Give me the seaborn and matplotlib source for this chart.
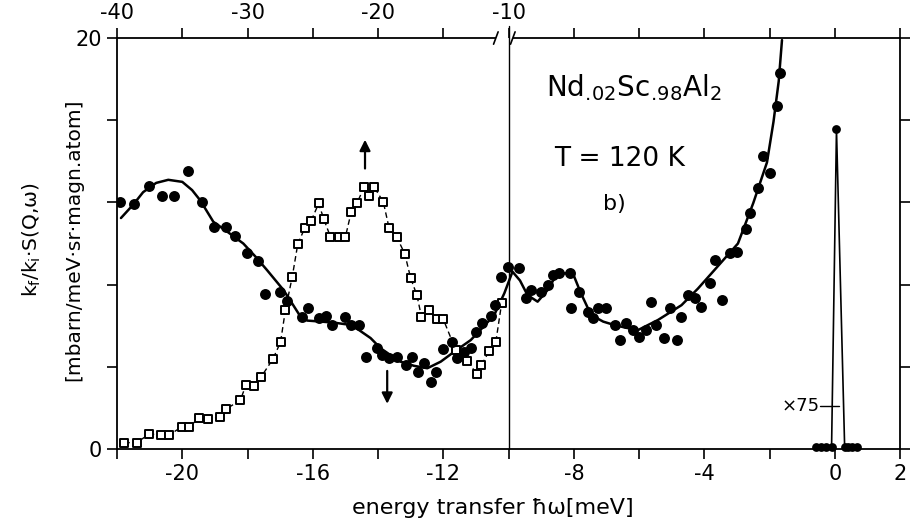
import numpy as np
import pandas as pd
import matplotlib
matplotlib.use("Agg")
import matplotlib.pyplot as plt
import seaborn as sns

# filled circles: measured points
dot_x = [-21.91, -21.48, -21.02, -20.63, -20.25, -19.84, -19.40, -19.02, -18.66, -18.37,
         -18.02, -17.68, -17.47, -17.01, -16.79, -16.33, -16.15, -15.82, -15.61, -15.40,
         -15.00, -14.84, -14.59, -14.38, -14.02, -13.87, -13.67, -13.41, -13.15, -12.95,
         -12.79, -12.59, -12.38, -12.23, -12.00, -11.72, -11.57, -11.36, -11.16, -11.00,
         -10.80, -10.54, -10.42, -10.23, -10.03, -9.67, -9.47, -9.31, -9.00, -8.80,
         -8.65, -8.44, -8.13, -8.08, -7.83, -7.57, -7.42, -7.27, -7.01, -6.75,
         -6.60, -6.39, -6.19, -5.99, -5.78, -5.63, -5.47, -5.24, -5.06, -4.83,
         -4.70, -4.50, -4.30, -4.09, -3.84, -3.68, -3.47, -3.22, -2.99, -2.73,
         -2.60, -2.34, -2.19, -1.98, -1.77, -1.67]
dot_y = [12.0, 11.92, 12.8, 12.3, 12.3, 13.55, 12.0, 10.8, 10.8, 10.37,
         9.54, 9.16, 7.56, 7.65, 7.22, 6.44, 6.88, 6.36, 6.47, 6.03,
         6.44, 6.03, 6.03, 4.49, 4.90, 4.57, 4.41, 4.49, 4.09, 4.49,
         3.76, 4.17, 3.28, 3.76, 4.85, 5.22, 4.41, 4.73, 4.90, 5.71,
         6.11, 6.48, 7.0, 8.38, 8.87, 8.79, 7.33, 7.74, 7.65, 7.98,
         8.47, 8.55, 8.55, 6.85, 7.65, 6.68, 6.36, 6.85, 6.85, 6.03,
         5.30, 6.11, 5.79, 5.46, 5.79, 7.17, 6.03, 5.39, 6.85, 5.30,
         6.44, 7.49, 7.33, 6.92, 8.06, 9.20, 7.25, 9.55, 9.58, 10.73,
         11.47, 12.71, 14.28, 13.45, 16.67, 18.32]

# open squares with dashed guide
sq_x = [-21.78, -21.40, -21.01, -20.65, -20.40, -20.01, -19.78, -19.50, -19.21, -18.84,
        -18.65, -18.22, -18.05, -17.81, -17.58, -17.23, -16.99, -16.84, -16.63, -16.46,
        -16.25, -16.05, -15.82, -15.66, -15.46, -15.20, -15.00, -14.82, -14.64, -14.43,
        -14.28, -14.13, -13.84, -13.66, -13.43, -13.18, -13.00, -12.81, -12.67, -12.44,
        -12.20, -12.00, -11.62, -11.26, -10.97, -10.83, -10.59, -10.39, -10.21]
sq_y = [0.31, 0.31, 0.73, 0.68, 0.68, 1.09, 1.09, 1.49, 1.44, 1.54,
        1.95, 2.38, 3.11, 3.07, 3.52, 4.36, 5.19, 6.76, 8.38, 9.98,
        10.74, 11.11, 11.95, 11.17, 10.33, 10.33, 10.33, 11.55, 11.99, 12.73,
        12.31, 12.77, 12.03, 10.74, 10.33, 9.49, 8.31, 7.49, 6.44, 6.76,
        6.31, 6.31, 4.82, 4.30, 3.63, 4.09, 4.78, 5.22, 7.12]

# solid fitted curve
fit_x = [-21.88, -21.5, -21.2, -20.8, -20.43, -20.0, -19.7, -19.45, -19.05, -18.6,
         -18.13, -17.75, -17.4, -16.9, -16.68, -16.4, -16.17, -15.75, -15.35, -14.9,
         -14.64, -14.23, -13.92, -13.6, -13.31, -12.9, -12.49, -12.08, -11.67, -11.16,
         -10.8, -10.44, -10.13, -9.88, -9.65, -9.42, -9.11, -8.8, -8.6, -8.39,
         -8.03, -7.78, -7.47, -7.1, -6.75, -6.4, -6.03, -5.42, -4.70, -4.2,
         -3.69, -2.97, -2.50, -2.08, -1.88, -1.72, -1.62]
fit_y = [11.24, 11.9, 12.5, 12.95, 13.1, 13.0, 12.6, 12.1, 11.06, 10.55,
         10.0, 9.35, 8.7, 7.74, 7.2, 6.5, 6.25, 6.2, 6.15, 6.05,
         5.85, 5.4, 4.9, 4.55, 4.25, 4.05, 3.93, 4.25, 4.73, 5.3,
         5.9, 6.52, 7.58, 8.63, 8.2, 7.49, 7.17, 7.74, 8.3, 8.55,
         8.55, 7.57, 6.52, 6.2, 6.03, 5.9, 5.79, 6.28, 7.0, 7.8,
         8.71, 10.0, 11.97, 13.95, 15.93, 17.9, 19.9]

# elastic line (x75)
peak_x = [-0.57, -0.42, -0.27, -0.10, 0.05, 0.30, 0.40, 0.54, 0.67]
peak_y = [0.12, 0.12, 0.12, 0.12, 15.56, 0.12, 0.12, 0.12, 0.12]
mark_x = [-0.46, 0.12]
mark_y = [2.07, 2.07]

bottom_ticks = list(range(-22, 3, 2))
bottom_labels = ['', '-20', '', '-16', '', '-12', '', '-8', '', '-4', '', '0', '2']
top_labels = ['-40', '', '-30', '', '-20', '', '-10', '', '', '', '', '', '']
y_ticks = [0, 4, 8, 12, 16, 20]
y_labels = ['0', '', '', '', '', '20']

sns.set_style('ticks')
plt.rcParams['font.family'] = ['DejaVu Sans']
plt.rcParams['mathtext.default'] = 'regular'
plt.rcParams['axes.unicode_minus'] = False
plt.rcParams['text.color'] = 'black'
plt.rcParams['axes.labelcolor'] = 'black'
plt.rcParams['xtick.color'] = 'black'
plt.rcParams['ytick.color'] = 'black'
plt.rcParams['axes.edgecolor'] = 'black'

fig = plt.figure(figsize=(9.18, 5.31), dpi=100)
ax = fig.add_axes([0.1275, 0.1544, 0.853, 0.774])

sns.lineplot(x=fit_x, y=fit_y, ax=ax, color='black', linewidth=1.8,
             sort=False, estimator=None)
sns.lineplot(x=sq_x, y=sq_y, ax=ax, color='black', linewidth=1.0,
             linestyle=(0, (4, 2.5)), sort=False, estimator=None)
sns.scatterplot(x=sq_x, y=sq_y, ax=ax, marker='s', s=40, color='white',
                edgecolor='black', linewidth=1.4, zorder=3)
sns.scatterplot(x=dot_x, y=dot_y, ax=ax, color='black', s=62, linewidth=0, zorder=4)
sns.lineplot(x=peak_x, y=peak_y, ax=ax, color='black', linewidth=1.2,
             sort=False, estimator=None)
sns.scatterplot(x=peak_x, y=peak_y, ax=ax, color='black', s=40, linewidth=0,
                zorder=4, clip_on=False)
sns.lineplot(x=mark_x, y=mark_y, ax=ax, color='black', linewidth=1.0,
             sort=False, estimator=None)

ax.set_xlim(-22, 2)
ax.set_ylim(0, 20)
ax.set_xticks(bottom_ticks, labels=bottom_labels)
ax.set_yticks(y_ticks, labels=y_labels)
ax.tick_params(axis='both', direction='out', length=7, width=1.2, labelsize=15,
               colors='black', pad=4)
ax.tick_params(axis='y', right=True)
for sp in ax.spines.values():
    sp.set_linewidth(1.3)
    sp.set_color('black')
ax.spines['top'].set_visible(False)

top = ax.secondary_xaxis('top')
top.set_xticks(bottom_ticks, labels=top_labels)
top.tick_params(direction='out', length=7, width=1.2, labelsize=15, pad=4,
                colors='black')
top.spines['top'].set_visible(False)

# top frame with the axis break at -10
tr = ax.get_xaxis_transform()
ax.plot([-22, -10.39], [1, 1], transform=tr, color='black', lw=1.3, clip_on=False,
        solid_capstyle='butt')
ax.plot([-9.87, 2], [1, 1], transform=tr, color='black', lw=1.3, clip_on=False,
        solid_capstyle='butt')
for bx in [-10.39, -9.87]:
    ax.plot([bx - 0.07, bx + 0.07], [0.985, 1.015], transform=tr, color='black',
            lw=1.2, clip_on=False)
ax.plot([-10, -10], [0, 1.03], transform=tr, color='black', lw=1.0, clip_on=False)

ax.annotate('', xy=(-14.4, 15.05), xytext=(-14.4, 13.65),
            arrowprops=dict(arrowstyle='-|>', color='black', lw=1.6,
                            mutation_scale=16, shrinkA=0, shrinkB=0))
ax.annotate('', xy=(-13.72, 2.2), xytext=(-13.72, 3.8),
            arrowprops=dict(arrowstyle='-|>', color='black', lw=1.6,
                            mutation_scale=16, shrinkA=0, shrinkB=0))

ax.text(-8.85, 17.18, r'Nd$_{.\!02}$Sc$_{.\!98}$Al$_2$', fontsize=20,
        ha='left', va='baseline')
ax.text(-8.6, 13.77, 'T = 120 K', fontsize=19, ha='left', va='baseline')
ax.text(-7.1, 11.63, 'b)', fontsize=16, ha='left', va='baseline')
ax.text(-0.46, 2.07, '×75', fontsize=13, ha='right', va='center')

ax.set_xlabel('energy transfer ħω[meV]', fontsize=16)
ax.xaxis.set_label_coords(0.48, -0.12)
ax.set_ylabel('')
fig.text(0.035, 0.548, 'k$_f$/k$_i$·S(Q,ω)', rotation=90, fontsize=14.5,
         ha='center', va='center')
fig.text(0.0806, 0.548, '[mbarn/meV·sr·magn.atom]', rotation=90, fontsize=14.5,
         ha='center', va='center')

fig.savefig('out.png', dpi=100, facecolor='white')
